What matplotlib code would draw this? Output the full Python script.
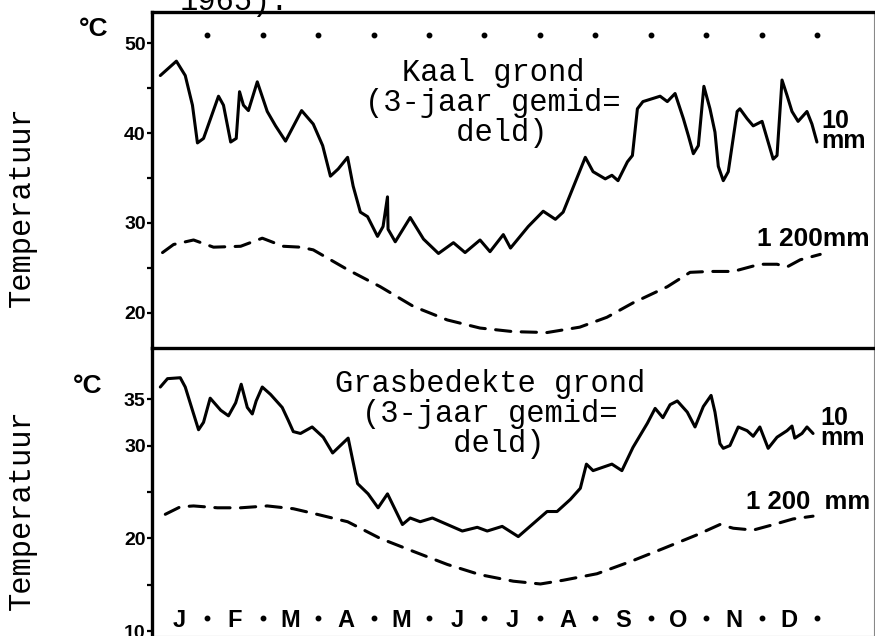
import numpy as np
import matplotlib
matplotlib.use("Agg")
import matplotlib.pyplot as plt
from matplotlib.ticker import MultipleLocator

# x in months from 1 January, temperatures in degrees C
kaal_10_m = [0.15, 0.44, 0.60, 0.73, 0.82, 0.93, 1.20, 1.29, 1.42, 1.52, 1.58, 1.65,
             1.74, 1.90, 2.08, 2.23, 2.41, 2.70, 2.91, 3.08, 3.22, 3.36, 3.53, 3.63,
             3.76, 3.89, 4.07, 4.17, 4.25, 4.26, 4.39, 4.66, 4.90, 5.17, 5.44, 5.65,
             5.92, 6.10, 6.34, 6.47, 6.79, 7.06, 7.28, 7.42, 7.82, 7.96, 8.18, 8.30,
             8.41, 8.58, 8.67, 8.76, 8.86, 9.17, 9.30, 9.44, 9.59, 9.68, 9.77, 9.86,
             9.96, 10.07, 10.16, 10.22, 10.31, 10.40, 10.56, 10.61, 10.74, 10.85,
             11.01, 11.21, 11.28, 11.37, 11.46, 11.55, 11.66, 11.82, 11.91, 12.00]
kaal_10_t = [46.4, 48.0, 46.4, 43.1, 38.9, 39.4, 44.1, 43.1, 39.0, 39.4, 44.6, 43.1,
             42.5, 45.7, 42.4, 40.8, 39.1, 42.5, 41.0, 38.6, 35.2, 36.0, 37.3, 34.1,
             31.2, 30.7, 28.5, 29.6, 32.9, 29.3, 27.9, 30.6, 28.2, 26.6, 27.8, 26.7,
             28.1, 26.8, 28.7, 27.2, 29.6, 31.3, 30.4, 31.2, 37.3, 35.7, 34.9, 35.3,
             34.7, 36.8, 37.5, 42.7, 43.5, 44.1, 43.5, 44.4, 41.6, 39.7, 37.7, 38.6,
             45.2, 42.7, 40.1, 36.3, 34.7, 35.7, 42.4, 42.7, 41.6, 40.8,
             41.3, 37.1, 37.5, 45.9, 44.2, 42.4, 41.3, 42.4, 41.0, 39.0]

kaal_1200_m = [0.19, 0.39, 0.75, 1.11, 1.60, 1.99, 2.37, 2.68, 2.91, 3.53, 4.12, 4.72,
               5.33, 5.92, 6.52, 7.13, 7.72, 8.21, 8.68, 9.30, 9.71, 10.07, 10.49,
               10.97, 11.28, 11.46, 11.70, 12.06]
kaal_1200_t = [26.7, 27.6, 28.1, 27.3, 27.4, 28.3, 27.4, 27.3, 27.0, 24.8, 22.9, 20.7,
               19.2, 18.3, 17.9, 17.8, 18.4, 19.5, 21.1, 22.9, 24.5, 24.6, 24.6,
               25.4, 25.4, 25.1, 25.9, 26.5]

gras_10_m = [0.15, 0.28, 0.51, 0.60, 0.73, 0.84, 0.93, 1.05, 1.24, 1.38, 1.51, 1.61,
             1.72, 1.81, 1.88, 1.99, 2.14, 2.35, 2.46, 2.55, 2.68, 2.89, 3.09, 3.26,
             3.54, 3.71, 3.90, 4.08, 4.25, 4.52, 4.66, 4.84, 5.06, 5.33, 5.60, 5.87,
             6.05, 6.32, 6.61, 6.88, 7.13, 7.31, 7.55, 7.73, 7.84, 7.96, 8.30, 8.48,
             8.68, 8.94, 9.08, 9.22, 9.35, 9.48, 9.66, 9.80, 9.95, 10.09, 10.16, 10.25,
             10.31, 10.43, 10.58, 10.74, 10.85, 10.97, 11.12, 11.28, 11.46, 11.55,
             11.60, 11.73, 11.82, 11.93]
gras_10_t = [36.3, 37.2, 37.3, 36.3, 33.8, 31.7, 32.5, 35.1, 33.8, 33.2, 34.6, 36.6,
             34.1, 33.4, 34.8, 36.3, 35.5, 34.1, 32.7, 31.5, 31.3, 32.0, 30.9, 29.2,
             30.8, 25.9, 24.8, 23.3, 24.8, 21.5, 22.2, 21.8, 22.2, 21.5, 20.8, 21.2,
             20.8, 21.3, 20.2, 21.6, 22.9, 22.9, 24.2, 25.4, 28.0, 27.3, 28.0, 27.3,
             29.8, 32.4, 34.0, 33.0, 34.4, 34.8, 33.6, 32.0, 34.2, 35.4, 33.6, 30.2,
             29.7, 30.0, 32.0, 31.6, 31.0, 32.0, 29.7, 30.9, 31.6, 32.1,
             30.8, 31.3, 32.0, 31.3]

gras_1200_m = [0.24, 0.51, 0.75, 1.18, 1.60, 2.08, 2.55, 2.91, 3.53, 4.12, 4.72, 5.33,
               5.92, 6.52, 7.01, 7.42, 8.03, 8.63, 9.22, 9.84, 10.25, 10.49, 10.85,
               11.22, 11.57, 11.93]
gras_1200_t = [22.6, 23.4, 23.5, 23.3, 23.3, 23.5, 23.2, 22.7, 21.8, 20.0, 18.6, 17.2,
               16.1, 15.4, 15.1, 15.5, 16.2, 17.5, 18.9, 20.4, 21.5, 21.1, 20.9,
               21.5, 22.1, 22.4]

months = ["J", "F", "M", "A", "M", "J", "J", "A", "S", "O", "N", "D"]

W, H = 875, 636
fig = plt.figure(figsize=(W / 100, H / 100), dpi=100)

def px(x, y):
    return x / W, 1 - y / H

mono = "Liberation Mono"
sans = "Liberation Sans"

def axes_box(top, bottom):
    return [152 / W, 1 - bottom / H, (874 - 152) / W, (bottom - top) / H]

ax1 = fig.add_axes(axes_box(12, 348))
ax2 = fig.add_axes(axes_box(348, 636))

dash = (0, (5, 3.4))
lw = 2.2
solid = dict(color="black", lw=lw, solid_joinstyle="round", solid_capstyle="round")
dashed = dict(color="black", lw=lw, linestyle=dash, dash_capstyle="round")

ax1.plot(kaal_10_m, kaal_10_t, **solid)
ax1.plot(kaal_1200_m, kaal_1200_t, **dashed)
ax2.plot(gras_10_m, gras_10_t, **solid)
ax2.plot(gras_1200_m, gras_1200_t, **dashed)

month_mid = np.arange(len(months)) + 0.5
month_end = np.arange(len(months)) + 1.0

# month-end dots along the top of the upper panel
ax1.plot(month_end, np.full(len(months), 50.9), "o", color="black", ms=3.2)

# month letters with separating dots in the lower panel
for m, lab in zip(month_mid, months):
    ax2.text(m, 11.2, lab, ha="center", va="center", fontsize=17,
             fontweight="bold", family=sans)
ax2.plot(month_end, np.full(len(months), 11.4), "o", color="black", ms=3.2)

ax1.set_xlim(0, 13.03)
ax2.set_xlim(0, 13.03)
ax1.set_ylim(16.08, 53.47)
ax2.set_ylim(9.5, 40.5)

ax1.yaxis.set_major_locator(MultipleLocator(10))
ax1.yaxis.set_minor_locator(MultipleLocator(5))
ax2.set_yticks([10, 20, 30, 35])
ax2.set_yticks([15, 25], minor=True)

for ax in (ax1, ax2):
    ax.set_xticks([])
    ax.tick_params(axis="y", which="both", direction="out", length=3.5, width=1.6,
                   pad=1)
    for lab in ax.get_yticklabels():
        lab.set_fontweight("bold")
        lab.set_fontsize(14)
        lab.set_family(sans)
    ax.spines["left"].set_linewidth(2.4)
    ax.spines["top"].set_linewidth(2.4)
    ax.spines["right"].set_linewidth(0.8)
    ax.spines["right"].set_color("#888888")
    ax.set_facecolor("none")
ax1.spines["bottom"].set_linewidth(2.0)
ax2.spines["bottom"].set_linewidth(0.8)
ax2.spines["bottom"].set_color("#888888")

# panel captions
fig.text(*px(493, 103), "Kaal grond\n(3-jaar gemid=\n deld)", ha="center",
         va="center", family=mono, fontsize=22, linespacing=1.0,
         multialignment="center")
fig.text(*px(490, 414), "Grasbedekte grond\n(3-jaar gemid=\n deld)", ha="center",
         va="center", family=mono, fontsize=22, linespacing=1.0,
         multialignment="center")

# depth labels at the line ends
fig.text(*px(821, 131), "10\nmm", ha="left", va="center", family=sans,
         fontsize=18, fontweight="bold", linespacing=0.82)
fig.text(*px(820, 428), "10\nmm", ha="left", va="center", family=sans,
         fontsize=18, fontweight="bold", linespacing=0.82)
fig.text(*px(757, 246), "1 200mm", ha="left", va="baseline", family=sans,
         fontsize=19, fontweight="bold")
fig.text(*px(746, 509), "1 200  mm", ha="left", va="baseline", family=sans,
         fontsize=18.5, fontweight="bold")

# units and axis titles
fig.text(*px(94, 29), "°C", ha="center", va="center", family=sans,
         fontsize=19, fontweight="bold")
fig.text(*px(88, 386), "°C", ha="center", va="center", family=sans,
         fontsize=19, fontweight="bold")
fig.text(*px(22, 207), "Temperatuur", rotation=90, ha="center", va="center",
         family=mono, fontsize=22)
fig.text(*px(22, 510), "Temperatuur", rotation=90, ha="center", va="center",
         family=mono, fontsize=22)

# end of the preceding line of text, cut off at the top edge
fig.text(*px(180, 10), "1965).", ha="left", va="baseline", family=mono,
         fontsize=22)

fig.savefig("out.png", dpi=100)
